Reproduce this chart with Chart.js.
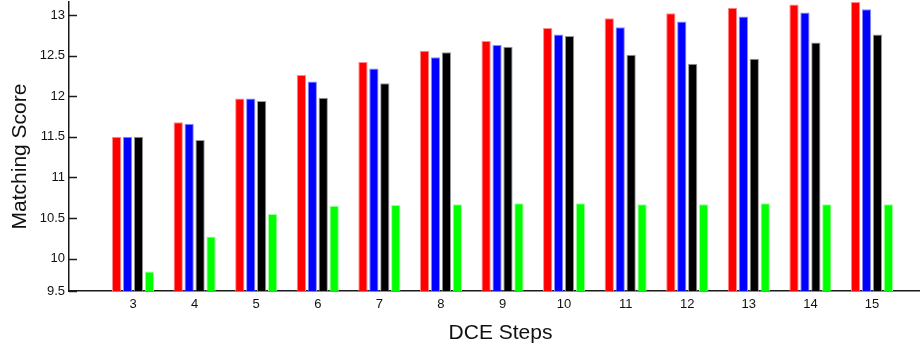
<!DOCTYPE html>
<html>
<head>
<meta charset="utf-8">
<script src="https://cdn.jsdelivr.net/npm/chart.js@4/dist/chart.umd.min.js"></script>
<style>
  html, body { margin: 0; padding: 0; background: #fff; overflow: hidden; }
  #wrap { width: 920px; height: 346px; }
</style>
</head>
<body>
<div id="wrap"><canvas id="c" width="920" height="346"></canvas></div>
<script>
// DCE steps on the x axis
const steps = [3, 4, 5, 6, 7, 8, 9, 10, 11, 12, 13, 14, 15];

// Matching score of each method per step
const scoreRed   = [11.50, 11.68, 11.97, 12.26, 12.42, 12.56, 12.68, 12.84, 12.96, 13.02, 13.09, 13.13, 13.16];
const scoreBlue  = [11.50, 11.66, 11.97, 12.18, 12.34, 12.48, 12.63, 12.76, 12.85, 12.92, 12.98, 13.03, 13.07];
const scoreBlack = [11.50, 11.46, 11.94, 11.98, 12.16, 12.54, 12.61, 12.74, 12.51, 12.40, 12.46, 12.66, 12.76];
const scoreGreen = [9.84, 10.27, 10.55, 10.65, 10.66, 10.67, 10.68, 10.68, 10.67, 10.67, 10.68, 10.67, 10.67];

// y axis ticks (the lowest tick sits on the axis floor)
const yTickValues = [9.6, 10, 10.5, 11, 11.5, 12, 12.5, 13];
const yTickLabels = ['9.5', '10', '10.5', '11', '11.5', '12', '12.5', '13'];

const xTitle = 'DCE Steps';
const yTitle = 'Matching Score';

const axisColor = '#1a1a1a';
const textColor = '#111';
const fontFamily = "'Liberation Sans', Arial, Helvetica, sans-serif";

function series(values) {
  return values.map((v, i) => ({ x: steps[i], y: v }));
}

function bars(label, values, fill, edge) {
  return {
    label,
    data: series(values),
    backgroundColor: fill,
    borderColor: edge,
    borderWidth: { left: 1, right: 1, top: 1, bottom: 0 },
    categoryPercentage: 0.71,
    barPercentage: 0.85
  };
}

// short inward tick marks on the y axis, plus the two axis titles
const axisDecor = {
  id: 'axisDecor',
  afterDraw(chart) {
    const y = chart.scales.y;
    const area = chart.chartArea;
    const ctx = chart.ctx;
    ctx.save();
    ctx.strokeStyle = axisColor;
    ctx.lineWidth = 1.5;
    y.ticks.forEach((t, i) => {
      const py = Math.round(y.getPixelForTick(i)) + 0.5;
      ctx.beginPath();
      ctx.moveTo(area.left, py);
      ctx.lineTo(area.left + 8, py);
      ctx.stroke();
    });

    ctx.fillStyle = textColor;
    ctx.font = '21px ' + fontFamily;
    ctx.textAlign = 'center';
    ctx.textBaseline = 'middle';
    ctx.fillText(xTitle, (area.left + area.right) / 2 + 6, chart.height - 13);

    ctx.translate(20, (area.top + area.bottom) / 2 + 10);
    ctx.rotate(-Math.PI / 2);
    ctx.fillText(yTitle, 0, 0);
    ctx.restore();
  }
};

new Chart(document.getElementById('c'), {
  type: 'bar',
  data: {
    datasets: [
      bars('Red', scoreRed, '#ff0000', '#ff8a8a'),
      bars('Blue', scoreBlue, '#0000ff', '#8a8aff'),
      bars('Black', scoreBlack, '#000000', '#9a9a9a'),
      bars('Green', scoreGreen, '#00ff00', '#9aff9a')
    ]
  },
  options: {
    responsive: false,
    animation: false,
    devicePixelRatio: 1,
    layout: { padding: { top: 2, right: 0, bottom: 0, left: 0 } },
    plugins: { legend: { display: false }, tooltip: { enabled: false } },
    scales: {
      x: {
        type: 'linear',
        offset: false,
        min: 1.96,
        max: 15.78,
        grid: { display: false, drawTicks: false },
        border: { display: true, color: axisColor, width: 1.5 },
        afterBuildTicks: s => { s.ticks = steps.map(v => ({ value: v })); },
        ticks: {
          padding: 6,
          color: textColor,
          font: { family: fontFamily, size: 13 },
          callback: v => String(v)
        },
        afterFit: s => { s.height = 55; s.paddingLeft = 0; s.paddingRight = 0; }
      },
      y: {
        min: 9.6,
        max: 13.16,
        grid: { display: false, drawTicks: false },
        border: { display: true, color: axisColor, width: 1.5 },
        afterBuildTicks: s => { s.ticks = yTickValues.map(v => ({ value: v })); },
        ticks: {
          padding: 4,
          color: textColor,
          font: { family: fontFamily, size: 13 },
          callback: (v, i) => yTickLabels[i]
        },
        afterFit: s => { s.width = 69; s.paddingTop = 0; s.paddingBottom = 0; }
      }
    }
  },
  plugins: [axisDecor]
});
</script>
</body>
</html>
